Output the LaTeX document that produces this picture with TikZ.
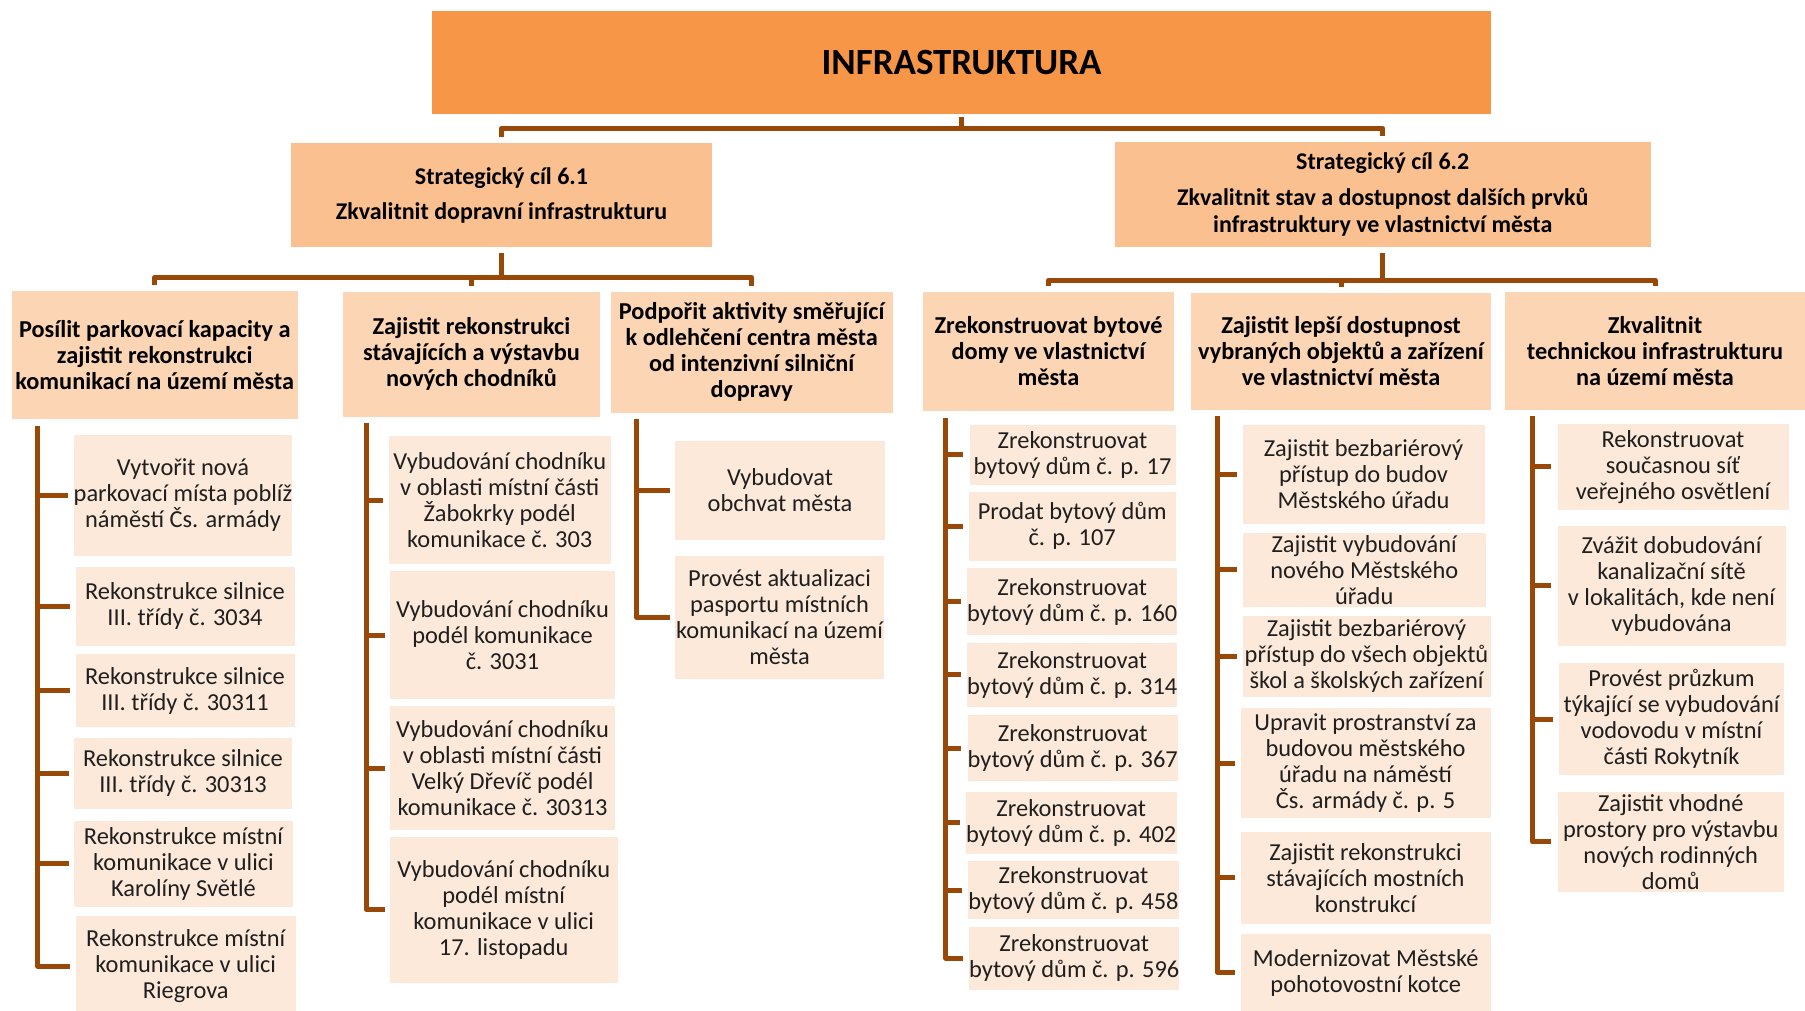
\documentclass[tikz,border=0pt]{standalone}
\usepackage{fontspec}
\setmainfont{Carlito}
\usetikzlibrary{calc}
\definecolor{topc}{HTML}{F79646}
\definecolor{lvtwo}{HTML}{FAC090}
\definecolor{lvthree}{HTML}{FCD5B5}
\definecolor{leafc}{HTML}{FDE9D9}
\definecolor{linec}{HTML}{984807}
\newcommand\mybox[7]{%
  \pgfmathsetmacro\mbxx{(#3+#5)/2}%
  \pgfmathsetmacro\mbxy{(#4+#6)/2}%
  \pgfmathsetmacro\mbxw{#5-#3}%
  \pgfmathsetmacro\mbxh{#6-#4}%
  \node[#1, minimum width=\mbxw pt, minimum height=\mbxh pt] (#2) at (\mbxx,\mbxy) {#7};}
\begin{document}
\begin{tikzpicture}[x=1pt,y=-1pt,
  titlebox/.style={fill=topc, inner sep=0pt, align=center, font=\fontsize{37}{44}\selectfont\bfseries},
  goalbox/.style={fill=lvtwo, inner sep=0pt, align=center, font=\fontsize{24}{27}\selectfont\bfseries},
  subbox/.style={fill=lvthree, inner sep=0pt, align=center, font=\fontsize{24.3}{26}\selectfont\bfseries},
  leafbox/.style={fill=leafc, inner sep=0pt, align=center, text=black!88, font=\fontsize{24.4}{26}\selectfont},
  conn/.style={draw=linec, line width=5pt, line join=round}]
\useasboundingbox[fill=white] (0,0) rectangle (1805,1011);

\mybox{titlebox}{top}{432}{11.5}{1491}{114}{INFRASTRUKTURA}
\mybox{goalbox}{s61}{291}{143.5}{712}{247}{Strategický cíl 6.1\\[8pt]Zkvalitnit dopravní infrastrukturu}
\mybox{goalbox}{s62}{1114.5}{142}{1651}{247}{Strategický cíl 6.2\\[9pt]Zkvalitnit stav a dostupnost dalších prvků\\infrastruktury ve vlastnictví města}

\mybox{subbox}{a1}{11.5}{291}{298}{418.5}{Posílit parkovací kapacity a\\zajistit rekonstrukci\\komunikací na území města}
\mybox{subbox}{a2}{343}{292}{600}{416.5}{Zajistit rekonstrukci\\stávajících a výstavbu\\nových chodníků}
\mybox{subbox}{a3}{611}{292}{892.5}{412.5}{Podpořit aktivity směřující\\k odlehčení centra města\\od intenzivní silniční\\dopravy}
\mybox{subbox}{b1}{923}{292}{1174}{411}{Zrekonstruovat bytové\\domy ve vlastnictví\\města}
\mybox{subbox}{b2}{1191}{293}{1491}{410}{Zajistit lepší dostupnost\\vybraných objektů a zařízení\\ve vlastnictví města}
\mybox{subbox}{b3}{1505}{292}{1805}{410}{Zkvalitnit\\technickou infrastrukturu\\na území města}

\mybox{leafbox}{l1}{74}{435}{292}{556}{Vytvořit nová\\parkovací místa poblíž\\náměstí Čs. armády}
\mybox{leafbox}{l2}{75.5}{567}{294.5}{645.5}{Rekonstrukce silnice\\III. třídy č. 3034}
\mybox{leafbox}{l3}{75.5}{654}{294.5}{727}{Rekonstrukce silnice\\III. třídy č. 30311}
\mybox{leafbox}{l4}{74}{737.5}{292}{808.5}{Rekonstrukce silnice\\III. třídy č. 30313}
\mybox{leafbox}{l5}{74}{821}{293}{906.5}{Rekonstrukce místní\\komunikace v ulici\\Karolíny Světlé}
\mybox{leafbox}{l6}{75.5}{916}{296}{1016}{Rekonstrukce místní\\komunikace v ulici\\Riegrova}

\mybox{leafbox}{m1}{388.5}{436}{611}{564}{Vybudování chodníku\\v oblasti místní části\\Žabokrky podél\\komunikace č. 303}
\mybox{leafbox}{m2}{390}{571}{615}{699}{Vybudování chodníku\\podél komunikace\\č. 3031}
\mybox{leafbox}{m3}{390}{706}{615}{830}{Vybudování chodníku\\v oblasti místní části\\Velký Dřevíč podél\\komunikace č. 30313}
\mybox{leafbox}{m4}{390}{837}{617.5}{982.5}{Vybudování chodníku\\podél místní\\komunikace v ulici\\17. listopadu}

\mybox{leafbox}{n1}{675}{441}{885}{540}{Vybudovat\\obchvat města}
\mybox{leafbox}{n2}{675}{556}{884}{679}{Provést aktualizaci\\pasportu místních\\komunikací na území\\města}

\mybox{leafbox}{p1}{969.5}{424.5}{1175.5}{484.5}{Zrekonstruovat\\bytový dům č. p. 17}
\mybox{leafbox}{p2}{969}{491.5}{1175.5}{561}{Prodat bytový dům\\č. p. 107}
\mybox{leafbox}{p3}{969}{568}{1175.5}{635}{Zrekonstruovat\\bytový dům č. p. 160}
\mybox{leafbox}{p4}{969}{642.5}{1175.5}{706.5}{Zrekonstruovat\\bytový dům č. p. 314}
\mybox{leafbox}{p5}{969}{715}{1176.5}{781}{Zrekonstruovat\\bytový dům č. p. 367}
\mybox{leafbox}{p6}{966}{791.5}{1176.5}{854}{Zrekonstruovat\\bytový dům č. p. 402}
\mybox{leafbox}{p7}{969}{861}{1178}{919}{Zrekonstruovat\\bytový dům č. p. 458}
\mybox{leafbox}{p8}{969.5}{927}{1179}{989.5}{Zrekonstruovat\\bytový dům č. p. 596}

\mybox{leafbox}{q1}{1242.5}{424.5}{1484.5}{524}{Zajistit bezbariérový\\přístup do budov\\Městského úřadu}
\mybox{leafbox}{q2}{1242.5}{533}{1486}{606.5}{Zajistit vybudování\\nového Městského\\úřadu}
\mybox{leafbox}{q3}{1242.5}{615.5}{1490.5}{697}{Zajistit bezbariérový\\přístup do všech objektů\\škol a školských zařízení}
\mybox{leafbox}{q4}{1240.5}{708}{1490.5}{818}{Upravit prostranství za\\budovou městského\\úřadu na náměstí\\Čs. armády č. p. 5}
\mybox{leafbox}{q5}{1240.5}{832}{1490.5}{923.5}{Zajistit rekonstrukci\\stávajících mostních\\konstrukcí}
\mybox{leafbox}{q6}{1240.5}{934}{1491}{1011}{Modernizovat Městské\\pohotovostní kotce}

\mybox{leafbox}{r1}{1557.5}{423.5}{1788.5}{510}{Rekonstruovat\\současnou síť\\veřejného osvětlení}
\mybox{leafbox}{r2}{1557.5}{525.5}{1785.5}{645.5}{Zvážit dobudování\\kanalizační sítě\\v lokalitách, kde není\\vybudována}
\mybox{leafbox}{r3}{1559}{663}{1784}{775}{Provést průzkum\\týkající se vybudování\\vodovodu v místní\\části Rokytník}
\mybox{leafbox}{r4}{1557.5}{791.5}{1784}{892}{Zajistit vhodné\\prostory pro výstavbu\\nových rodinných\\domů}

% top level connectors
\draw[conn] ($(top.south)+(0,3)$) -- ($(top.south)+(0,14)$) coordinate (tj);
\draw[conn] ($(s61.north)+(0,-6)$) |- (tj) -| ($(s62.north)+(0,-6)$);

% goal 6.1
\draw[conn] ($(s61.south)+(0,6)$) -- ($(s61.south)+(0,30)$) coordinate (aj);
\draw[conn] ($(a1.north)+(0,-6)$) |- (aj) -| ($(a3.north)+(0,-6)$);
\draw[conn] ($(a2.north)+(0,-6)$) -- (a2.north |- aj);

% goal 6.2
\draw[conn] ($(s62.south)+(0,6)$) -- ($(s62.south)+(0,33)$) coordinate (bj);
\draw[conn] ($(b1.north)+(0,-6)$) |- (bj) -| ($(b3.north)+(0,-6)$);
\draw[conn] ($(b2.north)+(0,-6)$) -- (b2.north |- bj);

% leaf connectors
\coordinate (a1v) at ($(a1.south west)+(26.5,7)$);
\draw[conn] (a1v) |- ($(l6.west)+(-5,0)$);
\foreach \n in {l1,l2,l3,l4,l5} \draw[conn] (a1v |- \n.west) -- ($(\n.west)+(-5,0)$);

\coordinate (a2v) at ($(a2.south west)+(24,6)$);
\draw[conn] (a2v) |- ($(m4.west)+(-5,0)$);
\foreach \n in {m1,m2,m3} \draw[conn] (a2v |- \n.west) -- ($(\n.west)+(-5,0)$);

\coordinate (a3v) at ($(a3.south west)+(26,6)$);
\draw[conn] (a3v) |- ($(n2.west)+(-5,0)$);
\draw[conn] (a3v |- n1.west) -- ($(n1.west)+(-5,0)$);

\coordinate (b1v) at ($(b1.south west)+(23,6.5)$);
\draw[conn] (b1v) |- ($(p8.west)+(-6,0)$);
\foreach \n in {p1,p2,p3,p4,p5,p6,p7} \draw[conn] (b1v |- \n.west) -- ($(\n.west)+(-6,0)$);

\coordinate (b2v) at ($(b2.south west)+(27,5.5)$);
\draw[conn] (b2v) |- ($(q6.west)+(-5,0)$);
\foreach \n in {q1,q2,q3,q4,q5} \draw[conn] (b2v |- \n.west) -- ($(\n.west)+(-5,0)$);

\coordinate (b3v) at ($(b3.south west)+(27.5,5.5)$);
\draw[conn] (b3v) |- ($(r4.west)+(-6,0)$);
\foreach \n in {r1,r2,r3} \draw[conn] (b3v |- \n.west) -- ($(\n.west)+(-6,0)$);
\end{tikzpicture}
\end{document}
